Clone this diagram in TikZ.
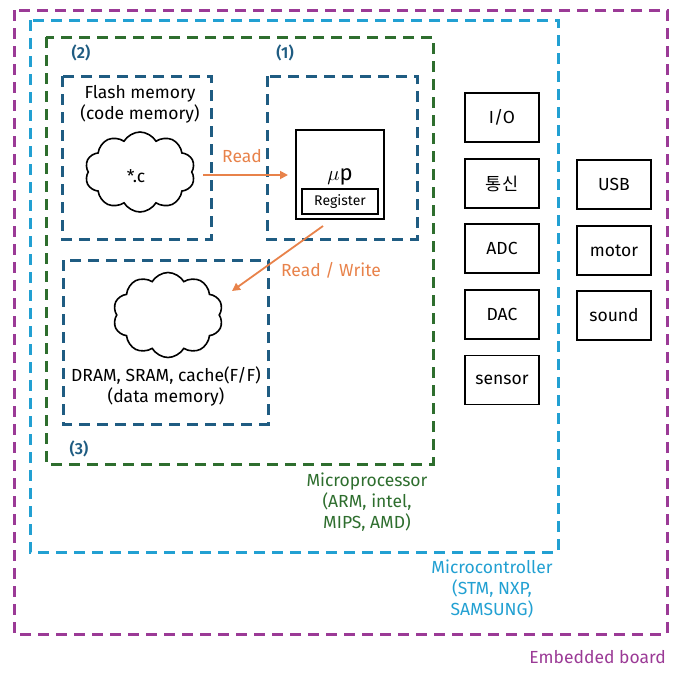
\documentclass[tikz,border=0pt]{standalone}
\usepackage{fontspec}
\setmainfont{Fira Sans}[BoldFont=Fira Sans SemiBold]
\newfontfamily\kr{Noto Sans CJK KR}
\usetikzlibrary{shapes.symbols,arrows.meta}
\definecolor{cpurple}{HTML}{9B3A96}
\definecolor{ccyan}{HTML}{22A0D2}
\definecolor{cgreen}{HTML}{2E6E2E}
\definecolor{cblue}{HTML}{1F5C82}
\definecolor{corange}{HTML}{E8824A}
\tikzset{
  frame/.style={line width=3pt, dash pattern=on 11pt off 7pt},
  txt/.style={font=\fontsize{17.5}{21}\selectfont, align=center, inner sep=0pt},
  num/.style={font=\fontsize{16}{19}\selectfont\bfseries, text=cblue, inner sep=0pt},
  pbox/.style={draw, line width=1.8pt, minimum width=74pt, minimum height=49pt, font=\fontsize{17.5}{19}\selectfont, inner sep=0pt},
  cloudy/.style={cloud, cloud puffs=10, cloud puff arc=120, draw, line width=1.6pt, aspect=1.4, inner sep=0pt},
  oarrow/.style={draw=corange, line width=1.8pt, -{Triangle[length=8pt,width=8pt]}},
}
\begin{document}
\begin{tikzpicture}[x=1pt,y=-1pt]
\useasboundingbox (0,0) rectangle (680,673);
% frames
\draw[frame, cpurple] (14,10) rectangle (667,634);
\draw[frame, ccyan] (30,20) rectangle (558,552);
\draw[frame, cgreen] (46,37) rectangle (433,464);
\draw[frame, cblue] (62,76) rectangle (211,239);
\draw[frame, cblue] (267,76) rectangle (417,239);
\draw[frame, cblue] (63,260) rectangle (268,424);
% numbers
\node[num] (n2) at (81,53) {(2)};
\node[num] (n1) at (285,53) {(1)};
\node[num] (n3) at (79,449) {(3)};
% frame labels
\node[txt, text=cgreen] (lmp) at (367,502) {Microprocessor\\(ARM, intel,\\MIPS, AMD)};
\node[txt, text=ccyan] (lmc) at (492,589) {Microcontroller\\(STM, NXP,\\SAMSUNG)};
\node[txt, text=cpurple, anchor=east] (leb) at (666,657) {Embedded board};
% flash
\node[txt] (flash) at (140,104) {Flash memory\\(code memory)};
\node[cloudy, minimum width=110pt, minimum height=80pt] (c1) at (140,172) {};
\node[txt] (cfile) at (136,176) {*.c};
% up
\node[draw, line width=1.8pt, minimum width=88pt, minimum height=89pt, inner sep=0pt] (up) at (340,174.5) {};
\node[font=\fontsize{22}{24}\selectfont, inner sep=0pt] (uplabel) at (340,177) {$\mu$p};
\node[draw, line width=1.8pt, minimum width=76pt, minimum height=25pt, inner sep=0pt, font=\fontsize{14}{15}\selectfont] (reg) at (340,201.5) {Register};
% data memory
\node[cloudy, minimum width=110pt, minimum height=85pt] (c2) at (168,315) {};
\node[txt] (dram) at (166,386) {DRAM, SRAM, cache(F/F)\\(data memory)};
% arrows
\coordinate (rs) at (203,175);
\coordinate (re) at (288,175);
\draw[oarrow] (rs) -- (re);
\node[txt, text=corange] (lread) at (242,156) {Read};
\coordinate (ws) at (323,226);
\coordinate (we) at (232,291);
\draw[oarrow] (ws) -- (we);
\node[txt, text=corange] (lrw) at (331,270) {Read / Write};
% peripherals
\node[pbox] (io) at (502,117.5) {I/O};
\node[pbox] (comm) at (502,183.5) {\kr 통신};
\node[pbox] (adc) at (502,248.5) {ADC};
\node[pbox] (dac) at (502,314.5) {DAC};
\node[pbox] (sensor) at (502,380) {sensor};
\node[pbox] (usb) at (614,184.5) {USB};
\node[pbox] (motor) at (614,250.5) {motor};
\node[pbox] (sound) at (614,315.5) {sound};
\end{tikzpicture}
\end{document}
